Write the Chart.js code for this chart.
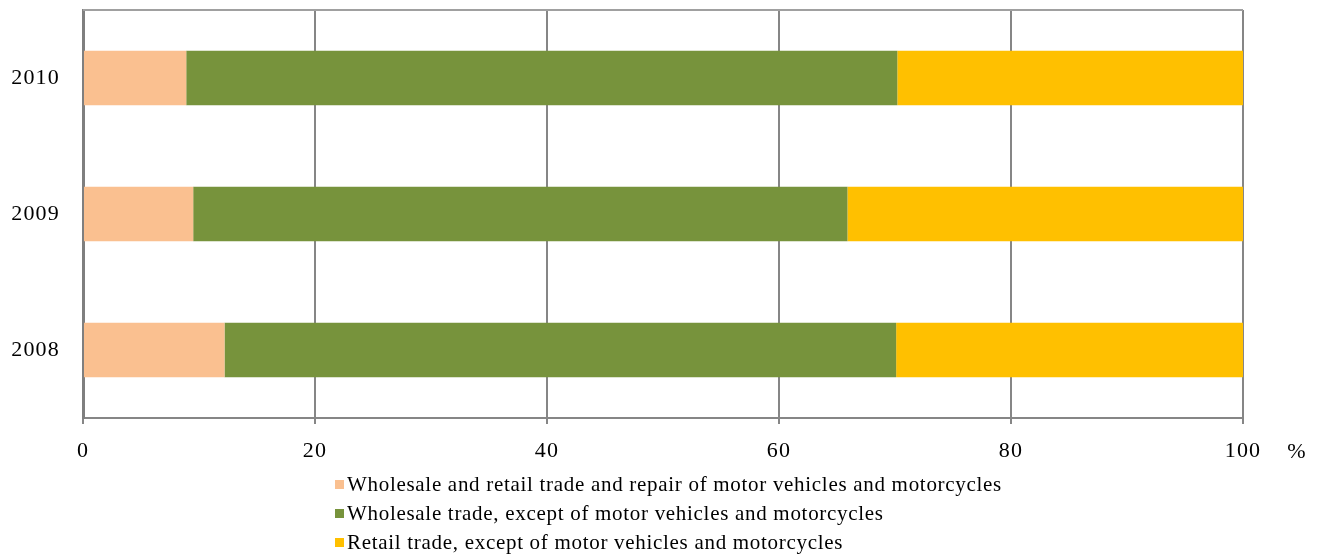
<!DOCTYPE html>
<html lang="en">
  <head>
    <title>Trade structure</title>
    <script src="https://cdn.jsdelivr.net/npm/chart.js@4.4.1/dist/chart.umd.min.js"></script>
    <style>
      body{
        margin: 0;
        background-color: #ffffff;
        font-family: 'Liberation Serif', serif;
      }
      #wrap{
        position: relative;
        width: 1319px;
        height: 554px;
      }
      #legend{
        position: absolute;
        left: 335px;
        top: 470px;
        font-size: 21px;
        letter-spacing: 0.7px;
        color: #000;
        line-height: 29px;
      }
      #legend .sw{
        display: inline-block;
        width: 9px;
        height: 9px;
        margin-right: 3px;
        vertical-align: 2px;
      }
    </style>
  </head>
  <body>
    <div id="wrap">
      <canvas id="tradeChart" width="1319" height="554"></canvas>
      <div id="legend"></div>
    </div>

    <script>
      const years = ["2008", "2009", "2010"];
      const seriesNames = [
        "Wholesale and retail trade and repair of motor vehicles and motorcycles",
        "Wholesale trade, except of motor vehicles and motorcycles",
        "Retail trade, except of motor vehicles and motorcycles"
      ];
      const repairShare = [12.2, 9.5, 8.9];
      const wholesaleShare = [57.9, 56.4, 61.3];
      const retailShare = [29.9, 34.1, 29.8];
      const xTicks = [0, 20, 40, 60, 80, 100];
      const colors = ["#fac090", "#77933c", "#ffc000"];

      // top frame line + "%" unit right of the last x tick
      const frameAndUnit = {
        id: "frameAndUnit",
        beforeDraw(chart) {
          chart.ctx.letterSpacing = "1.2px";
        },
        afterDraw(chart) {
          const area = chart.chartArea;
          const sx = chart.scales.x;
          const ctx = chart.ctx;
          ctx.save();
          ctx.strokeStyle = "#a0a0a0";
          ctx.lineWidth = 2;
          ctx.beginPath();
          ctx.moveTo(area.left, area.top);
          ctx.lineTo(area.right, area.top);
          ctx.stroke();
          ctx.font = "22px 'Liberation Serif'";
          ctx.fillStyle = "#000";
          ctx.textBaseline = "middle";
          ctx.textAlign = "center";
          ctx.fillText("%", sx.right + 54, sx.top + 34);
          ctx.restore();
        }
      };

      const tradeCtx = document.getElementById("tradeChart").getContext("2d");
      const tradeChart = new Chart(tradeCtx, {
        type: "bar",
        data: {
          labels: years,
          datasets: [
            { label: seriesNames[0], data: repairShare, backgroundColor: colors[0] },
            { label: seriesNames[1], data: wholesaleShare, backgroundColor: colors[1] },
            { label: seriesNames[2], data: retailShare, backgroundColor: colors[2] }
          ]
        },
        options: {
          indexAxis: "y",
          responsive: false,
          animation: false,
          categoryPercentage: 1,
          barPercentage: 0.4,
          layout: {
            padding: { left: 0, right: 76, top: 10, bottom: 86 }
          },
          plugins: {
            legend: { display: false },
            tooltip: { enabled: false }
          },
          scales: {
            x: {
              stacked: true,
              min: 0,
              max: 100,
              afterBuildTicks: (scale) => {
                scale.ticks = xTicks.map(v => ({ value: v }));
              },
              afterFit: (scale) => { scale.height = 50; },
              grid: {
                color: "#868686",
                lineWidth: 2,
                tickLength: 6
              },
              border: { color: "#868686", width: 2 },
              ticks: {
                color: "#000",
                padding: 14,
                font: { family: "'Liberation Serif'", size: 22 }
              }
            },
            y: {
              stacked: true,
              reverse: true,
              afterFit: (scale) => {
                scale.width = 83;
                scale.paddingTop = 0;
                scale.paddingBottom = 0;
              },
              grid: { display: false },
              border: { color: "#7f7f7f", width: 3 },
              ticks: {
                color: "#000",
                padding: 15,
                font: { family: "'Liberation Serif'", size: 22 }
              }
            }
          }
        },
        plugins: [frameAndUnit]
      });

      // legend, one entry per line
      const legendBox = document.getElementById("legend");
      tradeChart.data.datasets.forEach(ds => {
        const row = document.createElement("div");
        const sw = document.createElement("span");
        sw.className = "sw";
        sw.style.backgroundColor = ds.backgroundColor;
        row.appendChild(sw);
        row.appendChild(document.createTextNode(ds.label));
        legendBox.appendChild(row);
      });
    </script>
  </body>
</html>
